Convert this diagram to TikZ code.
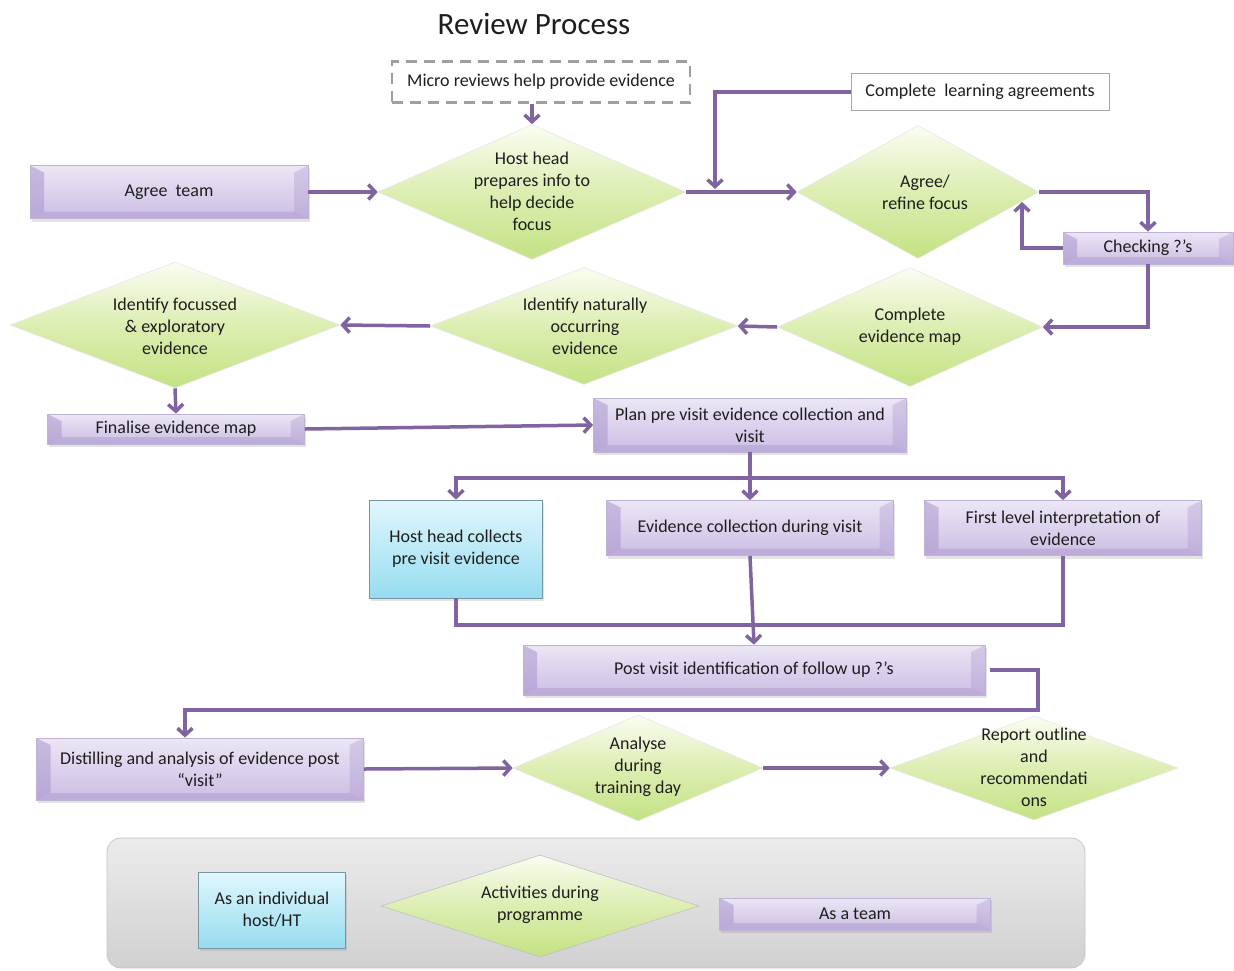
\documentclass[tikz,border=0pt]{standalone}
\usepackage{fontspec}
\setmainfont{Carlito}
\usetikzlibrary{shapes.geometric,arrows.meta,shadows}
\definecolor{arrowc}{RGB}{128,100,162}
\definecolor{pTop}{RGB}{236,230,245}
\definecolor{pBot}{RGB}{204,189,228}
\definecolor{pDark}{RGB}{170,150,205}
\definecolor{pLine}{RGB}{190,178,214}
\definecolor{cTop}{RGB}{225,247,253}
\definecolor{cBot}{RGB}{150,220,240}
\definecolor{cLine}{RGB}{120,150,160}
\definecolor{dTop}{RGB}{250,253,242}
\definecolor{dMid}{RGB}{220,238,178}
\definecolor{dBot}{RGB}{196,226,132}
\definecolor{gTop}{RGB}{236,236,236}
\definecolor{gBot}{RGB}{208,208,208}
\definecolor{txt}{RGB}{30,30,30}
\tikzset{
  base/.style={font=\fontsize{18}{22}\selectfont, text=txt, align=center, inner sep=0pt},
  bevel/.style={path picture={
    \fill[pDark,opacity=.55] (path picture bounding box.north west) -- ([xshift=14pt,yshift=-7pt]path picture bounding box.north west) -- ([xshift=14pt,yshift=7pt]path picture bounding box.south west) -- (path picture bounding box.south west) -- cycle;
    \fill[pDark,opacity=.35] (path picture bounding box.north east) -- ([xshift=-14pt,yshift=-7pt]path picture bounding box.north east) -- ([xshift=-14pt,yshift=7pt]path picture bounding box.south east) -- (path picture bounding box.south east) -- cycle;
    \fill[pDark,opacity=.45] (path picture bounding box.south west) -- ([xshift=14pt,yshift=7pt]path picture bounding box.south west) -- ([xshift=-14pt,yshift=7pt]path picture bounding box.south east) -- (path picture bounding box.south east) -- cycle;
  }},
  pbox/.style={base, draw=pLine, line width=0.8pt, top color=pTop, bottom color=pBot, bevel,
    drop shadow={opacity=.22, shadow xshift=1.5pt, shadow yshift=-3pt}},
  cbox/.style={base, draw=cLine, line width=0.8pt, top color=cTop, bottom color=cBot,
    drop shadow={opacity=.22, shadow xshift=1.5pt, shadow yshift=-3pt}},
  dia/.style={diamond, draw=gray!18, line width=0.6pt, inner sep=0pt, top color=dTop, bottom color=dBot, middle color=dMid},
  dtext/.style={base},
  conn/.style={draw=arrowc, line width=3.5pt, -{Straight Barb[length=7pt,width=15pt]}},
  ln/.style={draw=arrowc, line width=3.5pt},
}
\begin{document}
\begin{tikzpicture}[x=1pt,y=-1pt]
\useasboundingbox[fill=white] (0,0) rectangle (1234,970);

% title
\node[font=\fontsize{31}{36}\selectfont, text=txt] (title) at (534,24) {Review Process};

% top row
\node[base, draw=gray!75, dashed, dash pattern=on 11pt off 7pt, line width=2.5pt, minimum width=298, minimum height=41] (micro) at (541,82) {Micro reviews help provide evidence};
\node[base, draw=gray!70, line width=0.8pt, fill=white, minimum width=258, minimum height=37] (cla) at (980,92) {Complete\ \ learning agreements};

\node[pbox, minimum width=278, minimum height=53] (agree) at (169,192) {Agree\ \ team};

\node[dia, minimum width=308, minimum height=135] (d1) at (532,192) {};
\node[dtext] (d1t) at (532,191) {Host head\\prepares info to\\help decide\\focus};

\node[dia, minimum width=242, minimum height=133] (d2) at (918,192) {};
\node[dtext] (d2t) at (925,192) {Agree/\\refine focus};

\node[pbox, minimum width=170, minimum height=32] (chk) at (1148,248) {Checking ?’s};

% second row
\node[dia, minimum width=265, minimum height=119] (d3) at (910,327) {};
\node[dtext] (d3t) at (910,327) {Complete\\evidence map};

\node[dia, minimum width=307, minimum height=117] (d4) at (584,326) {};
\node[dtext] (d4t) at (585,326) {Identify naturally\\occurring\\evidence};

\node[dia, minimum width=330, minimum height=126] (d5) at (175,325) {};
\node[dtext] (d5t) at (175,326) {Identify focussed\\\&\ exploratory\\evidence};

\node[pbox, minimum width=257, minimum height=30] (fin) at (176,429) {Finalise evidence map};
\node[pbox, minimum width=313, minimum height=54] (plan) at (750,425) {Plan pre visit evidence collection and\\visit};

% third row
\node[cbox, minimum width=173, minimum height=98] (host) at (456,549) {Host head collects\\pre visit evidence};
\node[pbox, minimum width=287, minimum height=55] (evid) at (750,528) {Evidence collection during visit};
\node[pbox, minimum width=277, minimum height=55] (first) at (1063,528) {First level interpretation of\\evidence};

\node[pbox, minimum width=462, minimum height=50] (post) at (754,670) {Post visit identification of follow up ?’s};

% fourth row
\node[pbox, minimum width=327, minimum height=62] (dist) at (200,769) {Distilling and analysis of evidence post\\“visit”};
\node[dia, minimum width=250, minimum height=106] (d6) at (638,768) {};
\node[dtext] (d6t) at (638,767) {Analyse\\during\\training day};
\node[dia, minimum width=288, minimum height=104] (d7) at (1034,768) {};
\node[dtext] (d7t) at (1034,767) {Report outline\\and\\recommendati\\ons};

% legend
\node[draw=gray!45, line width=0.8pt, rounded corners=14pt, top color=gTop, bottom color=gBot, minimum width=978, minimum height=130, inner sep=0pt] (leg) at (596,903) {};
\node[cbox, minimum width=147, minimum height=76] (lc) at (272,910) {As an individual\\host/HT};
\node[dia, draw=gray!50, minimum width=318, minimum height=102] (ld) at (540,906) {};
\node[dtext] (ldt) at (540,905) {Activities during\\programme};
\node[pbox, minimum width=271, minimum height=32] (lp) at (855,914) {As a team};

% junction coordinates
\coordinate (j1) at (715,189);
\coordinate (c2) at (1022,202);
\coordinate (jt) at (750,478);
\coordinate (jb) at (755,625);
\coordinate (pr) at (1038,710);

% connectors
\draw[conn] (d1.north |- micro.south) -- (d1.north);
\draw[conn] (agree.east) -- (d1.west);
\draw[conn] (d1.east) -- (d2.west);
\draw[conn] (cla.west) -| (j1);
\draw[conn] (d2.east) -| (chk.north);
\draw[conn] (chk.west) -| (c2);
\draw[conn] (chk.south) |- (d3.east);
\draw[conn] (d3.west) -- (d4.east);
\draw[conn] (d4.west) -- (d5.east);
\draw[conn] (d5.south) -- (fin.north);
\draw[conn] (fin.east) -- (plan.west);
\draw[ln] (plan.south) -- (jt);
\draw[conn] (jt) -| (host.north);
\draw[conn] (jt) -- (evid.north);
\draw[conn] (jt) -| (first.north);
\draw[ln] (host.south) |- (jb) -| (first.south);
\draw[conn] (evid.south) -- (post.north);
\draw[conn] ([xshift=5pt]post.east) -| (pr) -| ([xshift=-15pt]dist.north);
\draw[conn] (dist.east) -- (d6.west);
\draw[conn] (d6.east) -- (d7.west);
\end{tikzpicture}
\end{document}
